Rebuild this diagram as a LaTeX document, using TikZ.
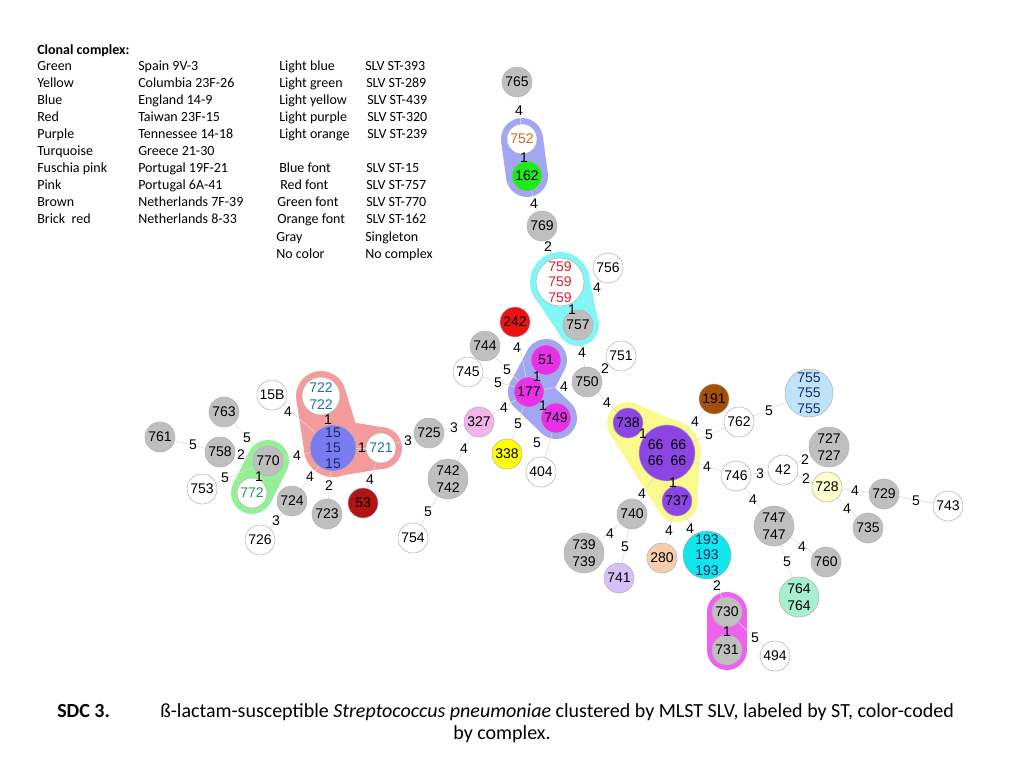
\documentclass[tikz,border=0pt]{standalone}
\usepackage{fontspec}
\setmainfont{Carlito}
\newfontfamily\arialf{Liberation Sans}
\usetikzlibrary{calc,backgrounds}

\definecolor{ngray}{HTML}{BFBFBF}
\definecolor{hullblue}{HTML}{A3A6F2}
\definecolor{hullcyan}{HTML}{80F6F6}
\definecolor{hullsalmon}{HTML}{F59B9B}
\definecolor{hullgreen}{HTML}{95EF95}
\definecolor{hullyellow}{HTML}{FAF98E}
\definecolor{hullmag}{HTML}{EE60EE}
\definecolor{cgreen}{HTML}{1EEB1E}
\definecolor{cred}{HTML}{EE1111}
\definecolor{cbrick}{HTML}{B01414}
\definecolor{cmag}{HTML}{E830E8}
\definecolor{cpink}{HTML}{F5B3EB}
\definecolor{cyel}{HTML}{FFFF00}
\definecolor{cblue}{HTML}{7B7BF0}
\definecolor{cpurple}{HTML}{8C45E2}
\definecolor{cbrown}{HTML}{A4500A}
\definecolor{cltblue}{HTML}{BEE4FA}
\definecolor{cmint}{HTML}{A6EFCF}
\definecolor{cpeach}{HTML}{F8CCAA}
\definecolor{cltpurple}{HTML}{D7C0F7}
\definecolor{cltyel}{HTML}{FFFFCC}
\definecolor{ccyan}{HTML}{10E6EC}
\definecolor{torange}{HTML}{D2691E}
\definecolor{tred}{HTML}{E02030}
\definecolor{tblue}{HTML}{1F6FB5}
\definecolor{tgreen}{HTML}{1A9A5A}
\definecolor{tnavy}{HTML}{1A2A60}

\newcommand\nfont{\arialf\fontsize{10.5pt}{11.5pt}\selectfont}
\newcommand\legfont{\fontsize{10.5pt}{12.8pt}\selectfont}
\newcommand\capfont{\fontsize{15pt}{18pt}\selectfont}
\newcommand\hullpair[4]{%
  \fill ($(#1.center)!#2!90:(#3.center)$) -- ($(#3.center)!#4!-90:(#1.center)$) -- ($(#3.center)!#4!90:(#1.center)$) -- ($(#1.center)!#2!-90:(#3.center)$) -- cycle;
  \fill (#1.center) circle[radius=#2];
  \fill (#3.center) circle[radius=#4];
}
\newcommand\edgelist{%
    765/752/4/519/111, 752/162/1/524/158, 162/769/4/534/204, 769/759/2/548/247,
    759/757/1/572/310, 756/757/4/597/288, 757/750/4/582/353, 750/751/2/605/369,
    177/750/4/564/387, 750/738/4/607/403, 51/177/1/537/377, 177/749/1/543/406,
    242/177/4/517/348, 744/177/5/507/370, 745/177/5/498/383, 327/177/4/504/408,
    725/327/3/454/428, 327/742/4/464/449, 177/338/5/518/424, 749/404/5/537/443,
    742/754/5/428/512, 721/725/3/408/441, 15/721/1/362/448, 722/15/1/328/420,
    15B/15/4/288/412, 763/770/5/247/438, 761/758/5/193/445, 758/770/2/241/455,
    770/772/1/259/477, 770/15/4/297/456, 753/770/5/225/478, 724/15/4/310/477,
    723/15/2/329/486, 724/726/3/276/521, 53/721/4/370/480, 738/66/1/643/434,
    66/737/1/673/483, 66/191/4/695/422, 66/762/5/709/435, 762/755/5/769/411,
    66/746/4/707/467, 746/42/3/760/474, 42/727/2/805/460, 42/728/2/806/479,
    728/729/4/855/491, 729/743/5/916/501, 728/735/4/847/509, 746/747/4/753/500,
    747/760/4/802/547, 747/764/5/787/562, 66/740/4/642/494, 740/739/4/610/534,
    740/741/5/625/547, 280/737/4/669/531, 193/737/4/690/529, 193/730/2/717/586,
    730/731/1/727/632, 730/494/5/755/638}

\tikzset{
  st/.style={circle, inner sep=0pt, draw=black!30, line width=0.4pt, font=\nfont, align=center},
  s15/.style={st, minimum size=22.5pt},
  s19/.style={st, minimum size=28.5pt},
  s20/.style={st, minimum size=30pt},
  s23/.style={st, minimum size=34.5pt},
  s24/.style={st, minimum size=36pt},
  s28/.style={st, minimum size=42pt},
  link/.style={draw=black!14, line width=0.45pt},
  elab/.style={font=\nfont, inner sep=0pt},
  leg/.style={anchor=base west, inner sep=0pt, font=\legfont},
}

\begin{document}
\begin{tikzpicture}[x=0.75pt,y=-0.75pt]
\useasboundingbox (0,0) rectangle (1024,768);

% ---------- legend ----------
\node[leg, font=\legfont\bfseries] (legtitle) at (37,54) {Clonal complex:};
\foreach \t [count=\i from 0] in {Green,Yellow,Blue,Red,Purple,Turquoise,Fuschia pink,Pink,Brown,Brick\ \ red}
  \node[leg] (lc1-\i) at (37,{70+17.1*\i}) {\t};
\foreach \t [count=\i from 0] in {Spain 9V-3,Columbia 23F-26,England 14-9,Taiwan 23F-15,Tennessee 14-18,Greece 21-30,Portugal 19F-21,Portugal 6A-41,Netherlands 7F-39,Netherlands 8-33}
  \node[leg] (lc2-\i) at (138,{70+17.1*\i}) {\t};
\foreach \r/\x/\t in {0/279/Light blue,1/279/Light green,2/279/Light yellow,3/279/Light purple,4/279/Light orange,6/279/Blue font,7/280/Red font,8/277/Green font,9/277/Orange font,10/276/Gray,11/276/No color}
  \node[leg] (lc3-\r) at (\x,{70+17.1*\r}) {\t};
\foreach \r/\x/\t in {0/365/SLV ST-393,1/366/SLV ST-289,2/367/SLV ST-439,3/367/SLV ST-320,4/367/SLV ST-239,6/366/SLV ST-15,7/366/SLV ST-757,8/366/SLV ST-770,9/366/SLV ST-162,10/365/Singleton,11/365/No complex}
  \node[leg] (lc4-\r) at (\x,{70+17.1*\r}) {\t};

% ---------- nodes ----------
\node[s15,fill=ngray] (n765) at (517,82) {765};
\node[s15,fill=white,text=torange] (n752) at (522,139) {752};
\node[s15,fill=cgreen] (n162) at (527,176) {162};
\node[s15,fill=ngray] (n769) at (542,226) {769};
\node[s24,fill=white,text=tred] (n759) at (560,282) {759\\759\\759};
\node[s15,fill=white] (n756) at (608,268) {756};
\node[s15,fill=ngray] (n757) at (578,325) {757};
\node[s15,fill=cred] (n242) at (515,322) {242};
\node[s15,fill=ngray] (n744) at (485,346) {744};
\node[s15,fill=white] (n745) at (468,372) {745};
\node[s15,fill=cmag] (n51) at (546,360) {51};
\node[s15,fill=cmag] (n177) at (529,392) {177};
\node[s15,fill=cmag] (n749) at (556,418) {749};
\node[s15,fill=ngray] (n750) at (587,382) {750};
\node[s15,fill=white] (n751) at (621,356) {751};
\node[s15,fill=cpink] (n327) at (479,422) {327};
\node[s15,fill=ngray] (n725) at (429,433) {725};
\node[s20,fill=ngray] (n742) at (448,479) {742\\[1pt]742};
\node[s15,fill=cyel] (n338) at (507,454) {338};
\node[s15,fill=white] (n404) at (541,472) {404};
\node[s15,fill=white] (n754) at (413,538) {754};
\node[s15,fill=white] (n15B) at (272,395) {15B};
\node[s15,fill=ngray] (n763) at (224,412) {763};
\node[s19,fill=white,text=tblue] (n722) at (321,396) {722\\[1pt]722};
\node[s23,fill=cblue,text=tnavy] (n15) at (333,448) {15\\15\\15};
\node[s15,fill=white,text=tblue] (n721) at (381,448) {721};
\node[s15,fill=ngray] (n761) at (160,437) {761};
\node[s15,fill=ngray] (n758) at (220,452) {758};
\node[s15,fill=ngray] (n770) at (268,461) {770};
\node[s15,fill=white,text=tgreen] (n772) at (252,493) {772};
\node[s15,fill=white] (n753) at (202,489) {753};
\node[s15,fill=ngray] (n724) at (292,501) {724};
\node[s15,fill=white] (n726) at (260,540) {726};
\node[s15,fill=ngray] (n723) at (327,514) {723};
\node[s15,fill=cbrick] (n53) at (363,503) {53};
\node[s15,fill=cpurple] (n738) at (628,423) {738};
\node[s28,fill=cpurple] (n66) at (667,453) {66\hspace{5.5pt}66\\[0.75pt]66\hspace{5.5pt}66};
\node[s15,fill=cpurple] (n737) at (677,501) {737};
\node[s15,fill=cbrown] (n191) at (714,399) {191};
\node[s15,fill=white] (n762) at (739,422) {762};
\node[s24,fill=cltblue,text=tnavy] (n755) at (809,393) {755\\755\\755};
\node[s15,fill=white] (n746) at (736,476) {746};
\node[s15,fill=white] (n42) at (783,470) {42};
\node[s20,fill=ngray] (n727) at (829,447) {727\\[1pt]727};
\node[s15,fill=cltyel] (n728) at (827,487) {728};
\node[s15,fill=ngray] (n729) at (884,494) {729};
\node[s15,fill=white] (n743) at (948,506) {743};
\node[s15,fill=ngray] (n735) at (868,528) {735};
\node[s20,fill=ngray] (n747) at (774,526) {747\\[1pt]747};
\node[s15,fill=ngray] (n760) at (826,562) {760};
\node[s20,fill=cmint] (n764) at (799,597) {764\\[1pt]764};
\node[s15,fill=ngray] (n740) at (632,514) {740};
\node[s20,fill=ngray] (n739) at (584,553) {739\\[1pt]739};
\node[s15,fill=cltpurple] (n741) at (619,578) {741};
\node[s15,fill=cpeach] (n280) at (662,558) {280};
\node[s24,fill=ccyan,text=tnavy] (n193) at (707,555) {193\\193\\193};
\node[s15,fill=ngray] (n730) at (727,612) {730};
\node[s15,fill=ngray] (n731) at (727,650) {731};
\node[s15,fill=white] (n494) at (775,656) {494};

% ---------- hulls and edges (behind the nodes) ----------
\begin{scope}[on background layer]
  \begin{scope}[fill=hullblue]
    \hullpair{n752}{15.75pt}{n162}{15.75pt}
    \hullpair{n51}{15.75pt}{n177}{15.75pt}
    \hullpair{n177}{15.75pt}{n749}{15.75pt}
  \end{scope}
  \begin{scope}[fill=hullcyan]
    \hullpair{n759}{22.5pt}{n757}{15.75pt}
  \end{scope}
  \begin{scope}[fill=hullsalmon]
    \hullpair{n722}{18.75pt}{n15}{21.75pt}
    \hullpair{n15}{21.75pt}{n721}{15.75pt}
  \end{scope}
  \begin{scope}[fill=hullgreen]
    \hullpair{n770}{15.75pt}{n772}{15.75pt}
  \end{scope}
  \begin{scope}[fill=hullyellow]
    \fill (n738.center) -- (n66.center) -- (n737.center) -- cycle;
    \hullpair{n738}{15.75pt}{n66}{25.5pt}
    \hullpair{n66}{25.5pt}{n737}{15.75pt}
    \hullpair{n738}{15.75pt}{n737}{15.75pt}
  \end{scope}
  \begin{scope}[fill=hullmag]
    \hullpair{n730}{15pt}{n731}{15pt}
  \end{scope}
  \foreach \a/\b/\l/\x/\y in \edgelist
    \draw[link] (n\a) -- (n\b);
\end{scope}

% ---------- edge labels (on top) ----------
\foreach \a/\b/\l/\x/\y [count=\i] in \edgelist
  \node[elab] (e\i) at (\x,\y) {\l};

% ---------- caption ----------
\node[anchor=base west, inner sep=0pt, font=\capfont\bfseries] (sdc) at (57,717) {SDC 3.};
\node[anchor=base west, inner sep=0pt, font=\capfont] (cap1) at (160,717) {ß-lactam-susceptible \textit{Streptococcus pneumoniae} clustered by MLST SLV, labeled by ST, color-coded};
\node[anchor=base, inner sep=0pt, font=\capfont] (cap2) at (502,739) {by complex.};
\end{tikzpicture}
\end{document}
